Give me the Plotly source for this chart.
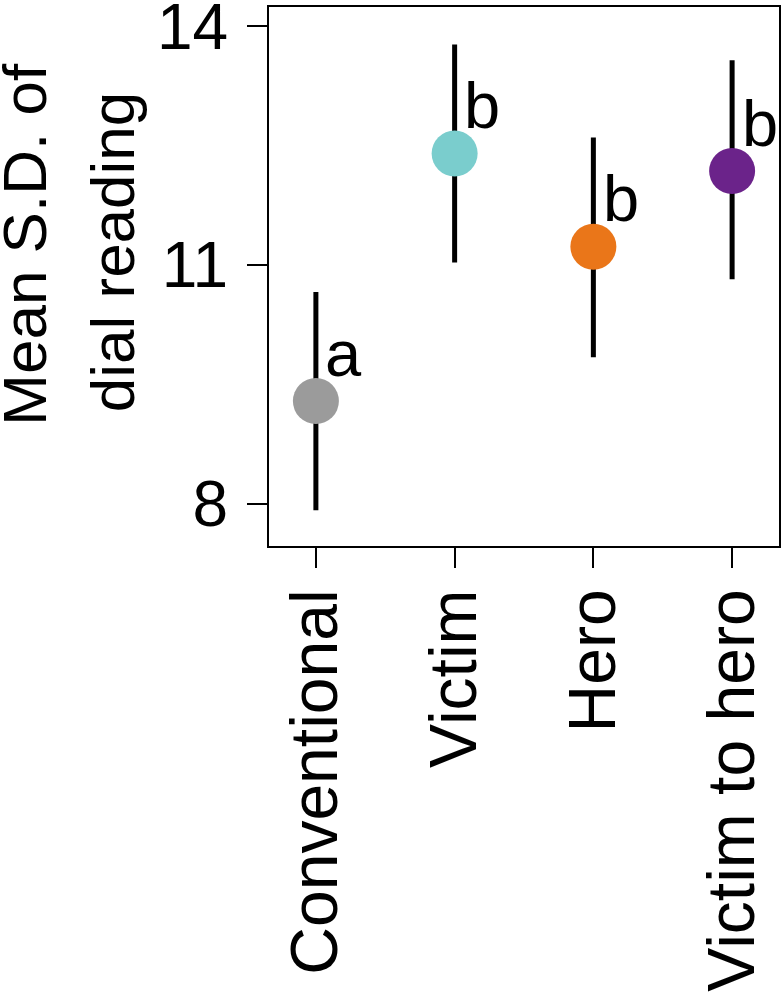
import plotly.graph_objects as go

# group summary: mean S.D. of dial reading with interval ends
groups = ["Conventional", "Victim", "Hero", "Victim to hero"]
means = [9.29, 12.40, 11.23, 12.18]
upper = [10.66, 13.77, 12.60, 13.57]
lower = [7.92, 11.03, 9.84, 10.82]
letters = ["a", "b", "b", "b"]
colors = ["#9B9B9B", "#7ACDCD", "#EA7619", "#6B238A"]
y_ticks = [8, 11, 14]

FONT = "Liberation Sans, Arial, Helvetica, sans-serif"
xpos = list(range(1, len(groups) + 1))

fig = go.Figure()

# points with interval bars (no caps)
fig.add_trace(go.Scatter(
    x=xpos,
    y=means,
    mode="markers",
    marker=dict(size=46, color=colors, line=dict(width=0)),
    error_y=dict(
        type="data",
        symmetric=False,
        array=[u - m for u, m in zip(upper, means)],
        arrayminus=[m - l for m, l in zip(means, lower)],
        width=0,
        thickness=5,
        color="black",
    ),
    showlegend=False,
    hoverinfo="skip",
))

# significance letters just right of each bar
for x, m, lab in zip(xpos, means, letters):
    fig.add_annotation(
        x=x + 0.2, y=m, xref="x", yref="y",
        text=lab, showarrow=False,
        xanchor="center", yanchor="middle", yshift=48,
        font=dict(family=FONT, size=65, color="black"),
    )

# two-line y title
fig.add_annotation(
    x=0, y=0.559, xref="paper", yref="paper", xshift=-244,
    text="Mean S.D. of", textangle=-90, showarrow=False,
    xanchor="center", yanchor="middle",
    font=dict(family=FONT, size=62, color="black"),
)
fig.add_annotation(
    x=0, y=0.545, xref="paper", yref="paper", xshift=-157,
    text="dial reading", textangle=-90, showarrow=False,
    xanchor="center", yanchor="middle",
    font=dict(family=FONT, size=62, color="black"),
)

fig.update_layout(
    width=784,
    height=997,
    margin=dict(l=269, r=5, t=7, b=451, autoexpand=False),
    plot_bgcolor="white",
    paper_bgcolor="white",
    showlegend=False,
    xaxis=dict(
        range=[0.662, 4.338],
        tickvals=xpos,
        ticktext=groups,
        tickangle=-90,
        ticks="outside", ticklen=20, tickwidth=2, tickcolor="black",
        ticklabelstandoff=-5,
        ticklabeloverflow="allow",
        showline=True, linecolor="black", linewidth=2, mirror=True,
        showgrid=False, zeroline=False,
        tickfont=dict(family=FONT, size=66, color="black"),
    ),
    yaxis=dict(
        range=[7.47, 14.24],
        tickvals=y_ticks,
        ticks="outside", ticklen=20, tickwidth=2, tickcolor="black",
        ticklabelstandoff=6,
        ticklabeloverflow="allow",
        showline=True, linecolor="black", linewidth=2, mirror=True,
        showgrid=False, zeroline=False,
        tickfont=dict(family=FONT, size=64, color="black"),
    ),
)

fig.write_html(
    "out.html",
    config={"displayModeBar": False},
    post_script="document.body.style.margin='0px';",
)
